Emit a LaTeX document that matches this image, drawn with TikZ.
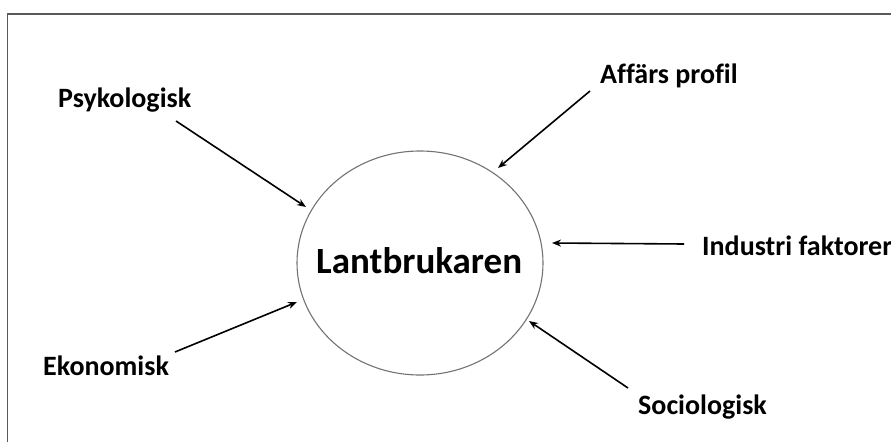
\documentclass[tikz,border=0pt]{standalone}
\usepackage{fontspec}
\setmainfont{Carlito}[Ligatures=NoCommon]
\usetikzlibrary{arrows.meta,shapes.geometric}
\begin{document}
\begin{tikzpicture}[x=1pt,y=-1pt,
  lbl/.style={inner sep=0pt,anchor=base west,font=\fontsize{28}{31}\selectfont\bfseries},
  conn/.style={line width=1.6pt,-{Stealth[length=9pt,width=7pt]}},
  frameline/.style={draw=black!65,line width=1.3pt}]
\useasboundingbox (0,0) rectangle (891,442);
\clip (0,0) rectangle (891,442);
\draw[frameline] (7.5,442) -- (7.5,14) -- (895,14);
\node[ellipse,draw=black!55,line width=1.1pt,minimum width=246pt,minimum height=224pt,inner sep=0pt] (ell) at (420,263) {};
\node[inner sep=0pt,anchor=base west,font=\fontsize{37}{40}\selectfont\bfseries] (lant) at (316,273) {Lantbrukaren};
\node[lbl] (psy) at (58,107) {Psykologisk};
\node[lbl] (aff) at (600,83) {Affärs profil};
\node[lbl] (ind) at (702,255) {Industri faktorer};
\node[lbl] (eko) at (43,375) {Ekonomisk};
\node[lbl] (soc) at (638,414) {Sociologisk};
\coordinate (psyS) at (176,121);
\coordinate (psyE) at (306,207);
\coordinate (affS) at (590,91);
\coordinate (affE) at (498,168);
\coordinate (indS) at (684,244);
\coordinate (indE) at (552,243);
\coordinate (ekoS) at (175,352);
\coordinate (ekoE) at (297,302);
\coordinate (socS) at (628,388);
\coordinate (socE) at (529,321);
\draw[conn] (psyS) -- (psyE);
\draw[conn] (affS) -- (affE);
\draw[conn] (indS) -- (indE);
\draw[conn] (ekoS) -- (ekoE);
\draw[conn] (socS) -- (socE);
\end{tikzpicture}
\end{document}
